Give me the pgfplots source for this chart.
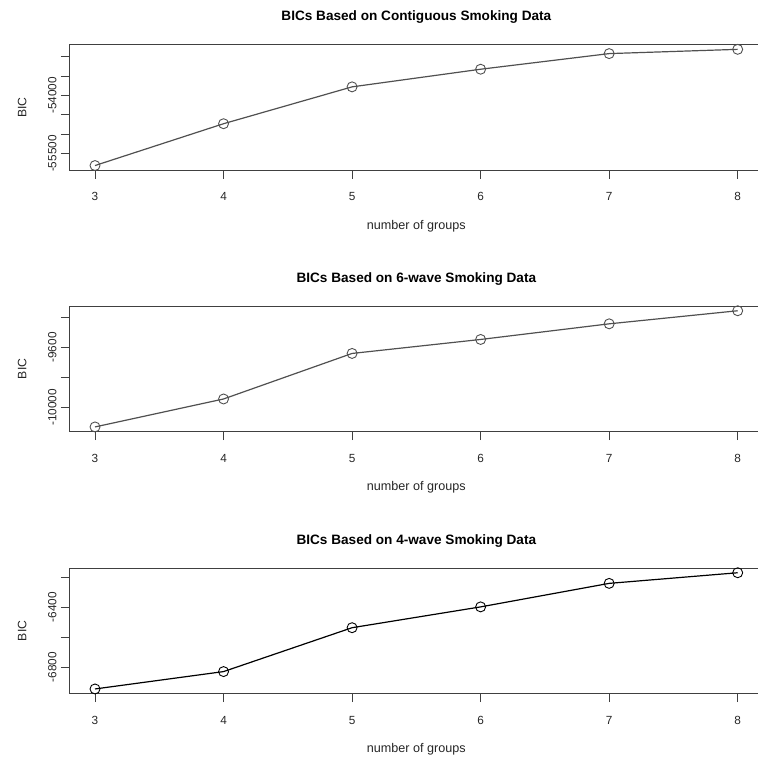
\documentclass[border=0pt]{standalone}
\usepackage{fontspec}
\setmainfont{Liberation Sans}
\usepackage{pgfplots}
\pgfplotsset{compat=1.18}
\definecolor{framec}{HTML}{404040}
\definecolor{linec}{HTML}{505050}
\begin{document}
\begin{tikzpicture}
\pgfplotsset{
  bic/.style={
    scale only axis, width=694.1pt, height=125.5pt,
    xmin=2.8, xmax=8.2, xtick={3,4,5,6,7,8}, xticklabels={3,4,5,6,7,8},
    anchor=north west,
    scaled y ticks=false,
    xtick pos=lower, ytick pos=left,
    tick align=outside, major tick length=8.5pt,
    every tick/.style={framec, line width=0.9pt},
    axis line style={framec, line width=1pt},
    xticklabel style={anchor=base, inner sep=0pt, font=\fontsize{11.8}{13}\selectfont, text=black!85},
    xticklabel shift=22pt,
    yticklabel style={rotate=90, anchor=base, inner sep=0pt, font=\fontsize{11.8}{13}\selectfont, text=black!85},
    yticklabel shift=4.5pt,
    title style={font=\bfseries\fontsize{13.6}{16}\selectfont, at={(axis description cs:0.5,1)}, anchor=base, yshift=18pt, inner sep=0pt},
    xlabel={number of groups},
    ylabel={BIC},
    every axis x label/.style={at={([yshift=-59pt]axis description cs:0.5,0)}, anchor=base, inner sep=0pt, font=\fontsize{12.6}{14}\selectfont, text=black!85},
    every axis y label/.style={at={([xshift=-43pt]axis description cs:0,0.5)}, rotate=90, anchor=base, inner sep=0pt, font=\fontsize{12.2}{14}\selectfont, text=black!85},
    clip=false,
  },
  bicline/.style={mark=o, mark size=5pt, line width=1.2pt, mark options={line width=0.9pt}},
}
% Panel 1
\begin{axis}[bic, at={(69.3pt,717.3pt)},
  title={BICs Based on Contiguous Smoking Data},
  ymin=-55929, ymax=-52691,
  ytick={-55500,-55000,-54500,-54000,-53500,-53000},
  yticklabels={-55500,{},{},-54000,{},{}}]
\addplot[bicline, color=linec] coordinates {
  (3,-55809) (4,-54730) (5,-53779) (6,-53324) (7,-52921) (8,-52811)};
\end{axis}
% Panel 2
\begin{axis}[bic, at={(69.3pt,455.9pt)},
  title={BICs Based on 6-wave Smoking Data},
  ymin=-10160, ymax=-9325,
  ytick={-10000,-9800,-9600,-9400},
  yticklabels={-10000,{},-9600,{}}]
\addplot[bicline, color=linec] coordinates {
  (3,-10129) (4,-9943) (5,-9640) (6,-9547) (7,-9443) (8,-9356)};
\end{axis}
% Panel 3
\begin{axis}[bic, at={(69.3pt,193.9pt)},
  title={BICs Based on 4-wave Smoking Data},
  ymin=-6976, ymax=-6138,
  ytick={-6800,-6600,-6400,-6200},
  yticklabels={-6800,{},-6400,{}}]
\addplot[bicline, color=black] coordinates {
  (3,-6945) (4,-6829) (5,-6536) (6,-6397) (7,-6240) (8,-6169)};
\end{axis}
\pgfresetboundingbox
\path[use as bounding box] (0pt,0pt) rectangle (757pt,762pt);
\end{tikzpicture}
\end{document}
